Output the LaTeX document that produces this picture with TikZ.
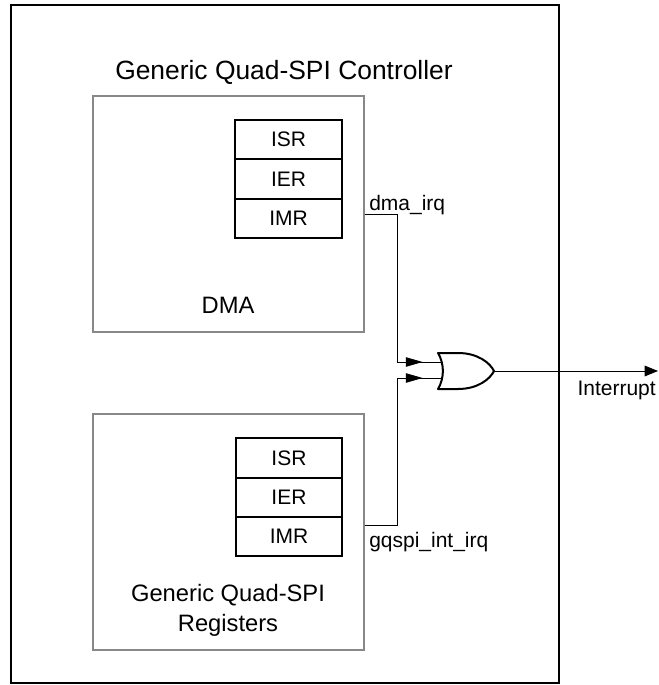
\documentclass[tikz,border=0pt]{standalone}
\usepackage{fontspec}
\setmainfont{Liberation Sans}
\usetikzlibrary{positioning,arrows.meta,decorations.markings}
\definecolor{boxgray}{RGB}{136,136,136}
\tikzset{
  ctrlbox/.style={draw=black,line width=1.3pt,minimum width=411pt,minimum height=508.5pt,inner sep=0pt},
  blk/.style={draw=boxgray,line width=1.5pt,minimum width=203pt,minimum height=177pt,inner sep=0pt},
  reg/.style={draw=black,line width=1.5pt,minimum width=80pt,minimum height=29.6pt,inner sep=0pt,outer sep=0pt,font=\fontsize{15.75pt}{19pt}\selectfont},
  ttl/.style={font=\fontsize{19.8pt}{24pt}\selectfont,inner sep=0pt},
  blab/.style={font=\fontsize{17.8pt}{22.5pt}\selectfont,align=center,inner sep=0pt},
  slab/.style={font=\fontsize{15.75pt}{19pt}\selectfont,inner sep=0pt},
  wire/.style={line width=0.75pt},
  inwire/.style={wire,postaction={decorate},decoration={markings,mark=at position 0.57 with {\arrow{Triangle[length=12.5pt,width=7pt]}}}},
  gatebox/.style={minimum width=42pt,minimum height=27pt,inner sep=0pt,outer sep=0pt},
  gateline/.style={line width=1.5pt,line join=round}
}
\begin{document}
\begin{tikzpicture}[x=0.75pt,y=-0.75pt]
  \useasboundingbox (0,0) rectangle (658,685);
  \node[ctrlbox] (ctrl) at (285,344) {};
  \node[ttl] (title) at (284,72) {Generic Quad-SPI Controller};
  % DMA block
  \node[blk] (dma) at (228.5,214) {};
  \node[reg] (isra) at (288.5,139.7) {ISR};
  \node[reg,below=0pt of isra] (iera) {IER};
  \node[reg,below=0pt of iera] (imra) {IMR};
  \node[blab] (dmalab) at (228,305) {DMA};
  % register block
  \node[blk] (gqregs) at (228.5,532) {};
  \node[reg] (isrb) at (289,457.8) {ISR};
  \node[reg,below=0pt of isrb] (ierb) {IER};
  \node[reg,below=0pt of ierb] (imrb) {IMR};
  \node[blab] (regslab) at (228,610) {Generic Quad-SPI\\Registers};
  % OR gate
  \node[gatebox] (orgate) at (466,371) {};
  \begin{scope}[shift={(orgate.north west)}]
    \draw[gateline] (0,0) -- (20,0) .. controls (40,0) and (52,10) .. (56,18)
      .. controls (52,26) and (40,36) .. (20,36) -- (0,36)
      .. controls (6.5,25) and (6.5,11) .. cycle;
    \coordinate (gina) at (4,9);
    \coordinate (ginb) at (4,25);
  \end{scope}
  \coordinate (jna) at (397,362);
  \coordinate (jnb) at (397,378);
  \coordinate (irqout) at (658,371);
  \draw[wire] (dma.east) -| (jna);
  \draw[wire] ([yshift=5.25pt]gqregs.east) -| (jnb);
  \draw[inwire] (jna) -- (gina);
  \draw[inwire] (jnb) -- (ginb);
  \draw[wire,-{Triangle[length=10pt,width=8pt]}] (orgate.east) -- (irqout);
  \node[slab,anchor=base west] (dmairq) at (369,210) {dma\_irq};
  \node[slab,anchor=base west] (gqirq) at (369,547) {gqspi\_int\_irq};
  \node[slab,anchor=east] (intlab) at (656,390) {Interrupt};
\end{tikzpicture}
\end{document}
